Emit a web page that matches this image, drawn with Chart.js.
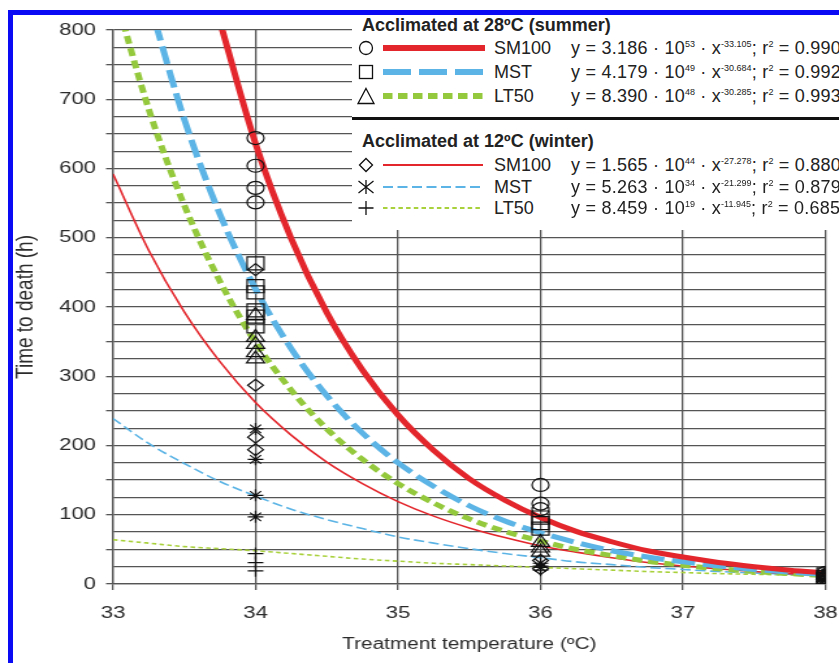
<!DOCTYPE html>
<html>
<head>
<meta charset="utf-8">
<title>Time to death vs treatment temperature</title>
<script src="https://cdn.jsdelivr.net/npm/chart.js@4.4.1/dist/chart.umd.min.js"></script>
<style>
    html, body { margin: 0; padding: 0; background: #fff; }
    body {
        width: 839px; height: 663px; overflow: hidden; position: relative;
        font-family: 'Liberation Sans', Arial, sans-serif; color: #222;
    }
    /* the source figure is stretched sideways, so the plot is drawn narrow and widened */
    #stretch { position: absolute; left: 0; top: 0; width: 645px; height: 663px;
               transform: scaleX(1.3008); transform-origin: 0 0; }
    #chart { display: block; }
    .frame { position: absolute; left: 8px; top: 10px; width: 900px; height: 700px;
             border-left: 5px solid #0a0af5; border-top: 5px solid #0a0af5; }
    .legend-box { position: absolute; left: 352px; top: 15px; width: 487px; height: 215px; background: #fff; }
    #legend-marks { position: absolute; left: 0; top: 0; }
    .txt { position: absolute; font-size: 18px; line-height: 20px; white-space: nowrap; }
    .eq { letter-spacing: 0.25px; }
    .title { font-weight: bold; }
    .txt sup { font-size: 9px; line-height: 0; vertical-align: 7px; letter-spacing: 0; }
</style>
</head>
<body>
<div id="stretch"><canvas id="chart" width="645" height="663"></canvas></div>

<div class="legend-box"></div>
<svg id="legend-marks" width="839" height="240">
    <rect x="352" y="117" width="487" height="3" fill="#111"/>
    <g fill="none" stroke="#111" stroke-width="1.3">
        <circle cx="366" cy="48" r="6.5"/>
        <rect x="359.5" y="65.5" width="13" height="13"/>
        <polygon points="366,88.5 374,103.5 358,103.5"/>
        <polygon points="366,158.5 372.5,165 366,171.5 359.5,165"/>
        <path d="M358.5 181 L373.5 193 M358.5 193 L373.5 181 M366 180 L366 194"/>
        <path d="M358.5 208 L373.5 208 M366 201 L366 215"/>
    </g>
    <line x1="383" x2="485" y1="48" y2="48" stroke="#e3262c" stroke-width="6"/>
    <line x1="383" x2="485" y1="72" y2="72" stroke="#5bb4e5" stroke-width="6" stroke-dasharray="28 8"/>
    <line x1="383" x2="485" y1="96" y2="96" stroke="#95c93d" stroke-width="6" stroke-dasharray="9.5 5.5"/>
    <line x1="383" x2="483" y1="165" y2="165" stroke="#e3262c" stroke-width="2"/>
    <line x1="383" x2="483" y1="187" y2="187" stroke="#5bb4e5" stroke-width="2" stroke-dasharray="10 4.5"/>
    <line x1="383" x2="483" y1="208" y2="208" stroke="#a9d13c" stroke-width="2" stroke-dasharray="4.5 3.2"/>
</svg>

<div class="txt title" style="left:362px; top:15px">Acclimated at 28ºC (summer)</div>
<div class="txt" style="left:494px; top:38px">SM100</div>
<div class="txt" style="left:494px; top:62px">MST</div>
<div class="txt" style="left:494px; top:86px">LT50</div>
<div class="txt eq" style="left:571px; top:38px">y = 3.186 · 10<sup>53</sup> · x<sup>-33.105</sup>; r<sup>2</sup> = 0.990</div>
<div class="txt eq" style="left:571px; top:62px">y = 4.179 · 10<sup>49</sup> · x<sup>-30.684</sup>; r<sup>2</sup> = 0.992</div>
<div class="txt eq" style="left:571px; top:86px">y = 8.390 · 10<sup>48</sup> · x<sup>-30.285</sup>; r<sup>2</sup> = 0.993</div>

<div class="txt title" style="left:362px; top:131px">Acclimated at 12ºC (winter)</div>
<div class="txt" style="left:494px; top:155px">SM100</div>
<div class="txt" style="left:494px; top:177px">MST</div>
<div class="txt" style="left:494px; top:198px">LT50</div>
<div class="txt eq" style="left:571px; top:155px">y = 1.565 · 10<sup>44</sup> · x<sup>-27.278</sup>; r<sup>2</sup> = 0.880</div>
<div class="txt eq" style="left:571px; top:177px">y = 5.263 · 10<sup>34</sup> · x<sup>-21.299</sup>; r<sup>2</sup> = 0.879</div>
<div class="txt eq" style="left:571px; top:198px">y = 8.459 · 10<sup>19</sup> · x<sup>-11.945</sup>; r<sup>2</sup> = 0.685</div>

<div class="frame"></div>

<script>
// Curve readings, hours, on a 0.25 ºC grid (null = above the 800 h top)
const tempGrid = [33, 33.25, 33.5, 33.75, 34, 34.25, 34.5, 34.75, 35, 35.25, 35.5,
                  35.75, 36, 36.25, 36.5, 36.75, 37, 37.25, 37.5, 37.75, 38];
const summerSM100 = [null, null, null, 812, 636, 499, 392, 309, 244, 193, 152,
                     121, 96, 76, 61, 48, 39, 31, 25, 20, 16];
const summerMST = [null, 844, 671, 534, 426, 340, 272, 218, 175, 141, 113,
                   91, 74, 60, 48, 39, 32, 26, 21, 17, 14];
const summerLT50 = [862, 686, 547, 437, 349, 280, 224, 180, 145, 117, 94,
                    76, 62, 50, 41, 33, 27, 22, 18, 15, 12];
const winterSM100 = [592, 482, 393, 321, 262, 215, 176, 145, 119, 98, 81,
                     67, 55, 46, 38, 31, 26, 22, 18, 15, 13];
const winterMST = [239, 203, 174, 148, 127, 108, 93, 80, 68, 59, 51,
                   44, 38, 32, 28, 24, 21, 18, 16, 14, 12];
const winterLT50 = [64, 59, 54, 51, 48, 44, 40, 36, 33, 30, 28,
                    26, 24, 22, 20, 18, 16.5, 15, 14, 13, 12];

// Observations (temperature, hours)
const circleTemp = [34, 34, 34, 34, 36, 36, 36, 38, 38, 38];
const circleHours = [644, 604, 572, 551, 143, 116, 108, 16, 12, 9];
const squareTemp = [34, 34, 34, 34, 34, 34, 36, 36, 36, 38, 38, 38];
const squareHours = [463, 430, 421, 395, 386, 372, 96, 88, 80, 14, 10, 7];
const triangleTemp = [34, 34, 34, 34, 34, 36, 36, 36, 38, 38, 38];
const triangleHours = [388, 356, 346, 334, 325, 60, 52, 46, 13, 9, 6];
const diamondTemp = [34, 34, 34, 34, 36, 36, 38, 38];
const diamondHours = [454, 287, 212, 194, 34, 22, 12, 8];
const starTemp = [34, 34, 34, 34, 36, 36, 38, 38];
const starHours = [224, 180, 128, 97, 30, 24, 11, 7];
const plusTemp = [34, 34, 34, 36, 36, 38, 38];
const plusHours = [44, 31, 19, 26, 20, 8, 5];

const yTickStep = 25;
const xTickStep = 1;

const RED = '#e3262c';
const BLUE = '#5bb4e5';
const GREEN = '#95c93d';
const GREEN_THIN = '#a9d13c';
const GRID = '#555';
const TEXT = '#2b2b2b';

Chart.defaults.font.family = "'Liberation Sans', Arial, sans-serif";
Chart.defaults.color = TEXT;

const toPoints = (xs, ys) => xs.map((x, i) => ({ x, y: ys[i] }));

function markers(xs, ys, style, radius) {
    return {
        data: toPoints(xs, ys),
        showLine: false,
        pointStyle: style,
        pointRadius: radius,
        pointHoverRadius: radius,
        pointBorderColor: '#111',
        pointBackgroundColor: 'rgba(0,0,0,0)',
        pointBorderWidth: 1.2
    };
}

function curve(values, color, width, dash) {
    return {
        data: toPoints(tempGrid, values),
        borderColor: color,
        borderWidth: width,
        borderDash: dash,
        pointRadius: 0,
        pointHoverRadius: 0,
        cubicInterpolationMode: 'monotone',
        fill: false,
        clip: 0
    };
}

new Chart(document.getElementById('chart'), {
    type: 'line',
    data: {
        datasets: [
            markers(circleTemp, circleHours, 'circle', 6.5),
            markers(squareTemp, squareHours, 'rect', 9.2),
            markers(triangleTemp, triangleHours, 'triangle', 8),
            markers(diamondTemp, diamondHours, 'rectRot', 6),
            markers(starTemp, starHours, 'star', 6),
            markers(plusTemp, plusHours, 'cross', 6),
            curve(summerSM100, RED, 5, []),
            curve(summerMST, BLUE, 5, [18, 6]),
            curve(summerLT50, GREEN, 5, [8, 4.5]),
            curve(winterSM100, RED, 1.6, []),
            curve(winterMST, BLUE, 1.6, [8, 3.5]),
            curve(winterLT50, GREEN_THIN, 1.6, [3.5, 2.5])
        ]
    },
    options: {
        responsive: false,
        animation: false,
        layout: { padding: { left: 0, top: 30, right: 4.6, bottom: 0 } },
        plugins: {
            legend: { display: false },
            tooltip: { enabled: false }
        },
        scales: {
            x: {
                type: 'linear',
                min: 33,
                max: 38,
                ticks: { stepSize: xTickStep, padding: 12.8, color: TEXT, font: { size: 17 } },
                grid: { color: GRID, lineWidth: 1.3, tickLength: 6, tickColor: GRID },
                border: { color: GRID, width: 1.3 },
                title: {
                    display: true,
                    text: 'Treatment temperature (ºC)',
                    color: TEXT,
                    font: { size: 16 },
                    padding: { top: 0, bottom: 8.5 }
                },
                afterFit: scale => {
                    scale.height = 79;
                    scale.paddingLeft = 0;
                    scale.paddingRight = 0;
                }
            },
            y: {
                min: 0,
                max: 800,
                ticks: {
                    stepSize: yTickStep,
                    autoSkip: false,
                    padding: 7.7,
                    color: TEXT,
                    font: { size: 17 },
                    callback: value => (value % 100 === 0 ? value : '')
                },
                grid: {
                    color: GRID,
                    lineWidth: 1.3,
                    tickLength: 5.4,
                    // tick marks only every 50 h
                    tickColor: ctx => (ctx.tick && ctx.tick.value % 50 === 0 ? GRID : 'rgba(0,0,0,0)')
                },
                border: { color: GRID, width: 1.3 },
                title: {
                    display: true,
                    text: 'Time to death (h)',
                    color: TEXT,
                    font: { size: 19 },
                    padding: { top: 8, bottom: 0 }
                },
                afterFit: scale => {
                    scale.width = 86.9;
                    scale.paddingTop = 0;
                    scale.paddingBottom = 0;
                }
            }
        }
    }
});
</script>
</body>
</html>
